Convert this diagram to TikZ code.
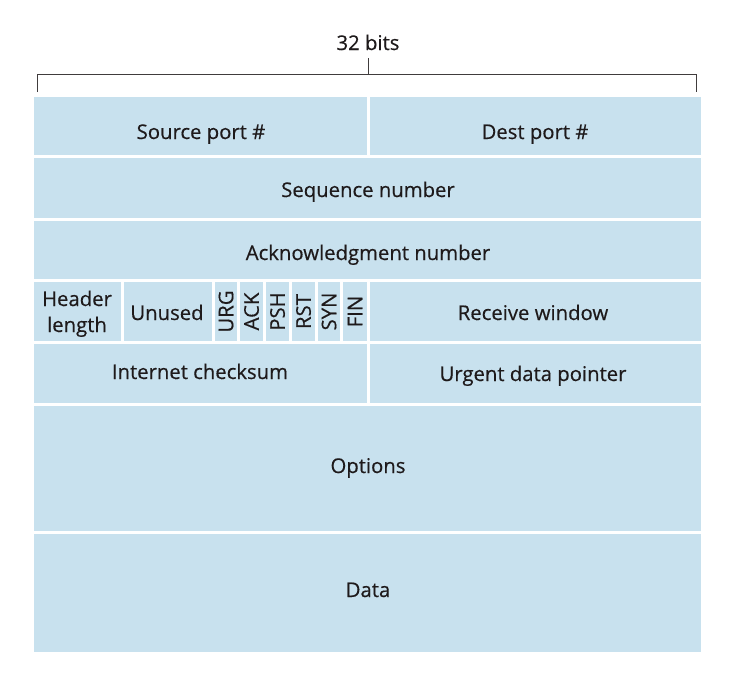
\documentclass[tikz,border=0pt]{standalone}
\usepackage{fontspec}
\setmainfont{Open Sans}
\newfontfamily\lblfont{Open Sans}[FakeBold=0.45]
\definecolor{cellblue}{RGB}{200,225,238}
\definecolor{ink}{RGB}{30,26,27}
\newcommand\fcell[5]{%
  \node[cell, minimum width={#4pt-#2pt}, minimum height={#5pt-#3pt}] (#1)
    at ({(#2+#4)/2},{(#3+#5)/2}) {};}
\begin{document}
\begin{tikzpicture}[x=1pt,y=-1pt,
  cell/.style={fill=cellblue, draw=none, inner sep=0pt, outer sep=0pt},
  lbl/.style={anchor=base, inner sep=0pt, text=ink, font=\lblfont\fontsize{20.3}{26}\selectfont, align=center},
  flag/.style={rotate=90, text=ink, font=\lblfont\fontsize{20.3}{26}\selectfont, inner sep=0pt},
  brace/.style={draw=ink!85, line width=0.8pt}]
\useasboundingbox (0,0) rectangle (744,681);
% bracket
\node[lbl] (bits) at (368,50) {32 bits};
\coordinate (bl) at (37,92);
\coordinate (br) at (696,92);
\coordinate (btop) at (368,58);
\coordinate (bmid) at (368,74);
\draw[brace] (bl) -- (37,74) -- (696,74) -- (br);
\draw[brace] (btop) -- (bmid);
% cells
\fcell{src}{34}{97}{367}{155}
\fcell{dst}{370}{97}{701}{155}
\fcell{seq}{34}{158}{701}{218}
\fcell{ack}{34}{221}{701}{279}
\fcell{hl}{34}{282}{121}{341}
\fcell{unused}{124}{282}{212}{341}
\fcell{urg}{215}{282}{237}{341}
\fcell{fack}{240}{282}{263}{341}
\fcell{psh}{266}{282}{289}{341}
\fcell{rst}{292}{282}{315}{341}
\fcell{syn}{318}{282}{340}{341}
\fcell{fin}{343}{282}{367}{341}
\fcell{rwin}{370}{282}{701}{341}
\fcell{csum}{34}{344}{367}{403}
\fcell{urgp}{370}{344}{701}{403}
\fcell{opt}{34}{406}{701}{531}
\fcell{data}{34}{534}{701}{652}
% labels
\node[lbl] (tsrc) at (201,139) {Source port \#};
\node[lbl] (tdst) at (535,139) {Dest port \#};
\node[lbl] (tseq) at (368,197) {Sequence number};
\node[lbl] (tack) at (368,260) {Acknowledgment number};
\node[lbl] (thl1) at (77,306) {Header};
\node[lbl] (thl2) at (77,332) {length};
\node[lbl] (tunused) at (167,320) {Unused};
\node[lbl] (trwin) at (533,320) {Receive window};
\node[lbl] (tcsum) at (200,379) {Internet checksum};
\node[lbl] (turgp) at (533,381) {Urgent data pointer};
\node[lbl] (topt) at (368,473) {Options};
\node[lbl] (tdata) at (368,597) {Data};
% flags
\node[flag] (turg) at (urg) {URG};
\node[flag] (tfack) at (fack) {ACK};
\node[flag] (tpsh) at (psh) {PSH};
\node[flag] (trst) at (rst) {RST};
\node[flag] (tsyn) at (syn) {SYN};
\node[flag] (tfin) at (fin) {FIN};
\end{tikzpicture}
\end{document}
